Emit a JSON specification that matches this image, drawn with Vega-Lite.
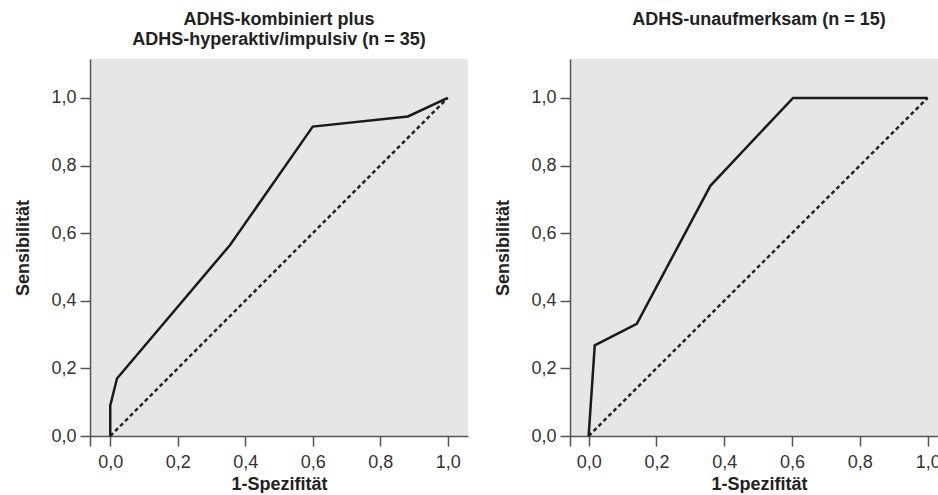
{
  "$schema": "https://vega.github.io/schema/vega-lite/v6.json",
  "padding": {"left": 14, "top": 11, "right": 0, "bottom": 0},
  "spacing": 26,
  "background": "white",
  "config": {
    "view": {"fill": "#e6e6e6", "stroke": null},
    "axis": {
      "grid": false,
      "domainColor": "#555555",
      "domainWidth": 1.5,
      "tickColor": "#555555",
      "tickWidth": 1.5,
      "tickSize": 10,
      "labelPadding": 4,
      "labelFont": "Liberation Sans",
      "labelFontSize": 18,
      "labelColor": "#333333",
      "titleFont": "Liberation Sans",
      "titleFontSize": 18,
      "titleFontWeight": "bold",
      "titleColor": "#222222"
    },
    "title": {"font": "Liberation Sans", "fontSize": 18, "fontWeight": "bold", "color": "#222222", "lineHeight": 20}
  },
  "datasets": {
    "left": [
      {"x": 0, "y": 0},
      {"x": 0, "y": 0.09},
      {"x": 0.02, "y": 0.17},
      {"x": 0.355, "y": 0.565},
      {"x": 0.6, "y": 0.915},
      {"x": 0.882, "y": 0.945},
      {"x": 1, "y": 1}
    ],
    "right": [
      {"x": 0, "y": 0},
      {"x": 0.018, "y": 0.268},
      {"x": 0.142, "y": 0.332},
      {"x": 0.359, "y": 0.74},
      {"x": 0.603, "y": 1.0},
      {"x": 1.0, "y": 1.0}
    ],
    "diag": [{"x": 0, "y": 0}, {"x": 1, "y": 1}]
  },
  "hconcat": [
    {
      "title": {"text": ["ADHS-kombiniert plus", "ADHS-hyperaktiv/impulsiv (n = 35)"], "offset": 10},
      "width": 378,
      "height": 377,
      "layer": [
        {
          "data": {"name": "diag"},
          "mark": {"type": "line", "color": "#222222", "strokeWidth": 2.5, "strokeDash": [4, 3]},
          "encoding": {
            "x": {"field": "x", "type": "quantitative", "scale": {"domain": [-0.06, 1.06], "nice": false, "zero": false},
              "axis": {"title": "1-Spezifität", "values": [-0.06, 0, 0.2, 0.4, 0.6, 0.8, 1.0], "labelExpr": "datum.value < 0 ? '' : replace(format(datum.value, '.1f'), '.', ',')", "labelPadding": 7, "titlePadding": 4}},
            "y": {"field": "y", "type": "quantitative", "scale": {"domain": [0, 1.115], "nice": false},
              "axis": {"title": "Sensibilität", "values": [0, 0.2, 0.4, 0.6, 0.8, 1.0], "labelExpr": "replace(format(datum.value, '.1f'), '.', ',')", "titlePadding": 18}}
          }
        },
        {
          "data": {"name": "left"},
          "mark": {"type": "line", "color": "#1a1a1a", "strokeWidth": 2.5},
          "encoding": {
            "x": {"field": "x", "type": "quantitative"},
            "y": {"field": "y", "type": "quantitative"}
          }
        }
      ]
    },
    {
      "title": {"text": "ADHS-unaufmerksam (n = 15)", "offset": 30},
      "width": 378,
      "height": 377,
      "layer": [
        {
          "data": {"name": "diag"},
          "mark": {"type": "line", "color": "#222222", "strokeWidth": 2.5, "strokeDash": [4, 3]},
          "encoding": {
            "x": {"field": "x", "type": "quantitative", "scale": {"domain": [-0.055, 1.06], "nice": false, "zero": false},
              "axis": {"title": "1-Spezifität", "values": [-0.055, 0, 0.2, 0.4, 0.6, 0.8, 1.0], "labelExpr": "datum.value < 0 ? '' : replace(format(datum.value, '.1f'), '.', ',')", "labelPadding": 7, "titlePadding": 4}},
            "y": {"field": "y", "type": "quantitative", "scale": {"domain": [0, 1.115], "nice": false},
              "axis": {"title": "Sensibilität", "values": [0, 0.2, 0.4, 0.6, 0.8, 1.0], "labelExpr": "replace(format(datum.value, '.1f'), '.', ',')", "titlePadding": 18}}
          }
        },
        {
          "data": {"name": "right"},
          "mark": {"type": "line", "color": "#1a1a1a", "strokeWidth": 2.5},
          "encoding": {
            "x": {"field": "x", "type": "quantitative"},
            "y": {"field": "y", "type": "quantitative"}
          }
        }
      ]
    }
  ]
}
